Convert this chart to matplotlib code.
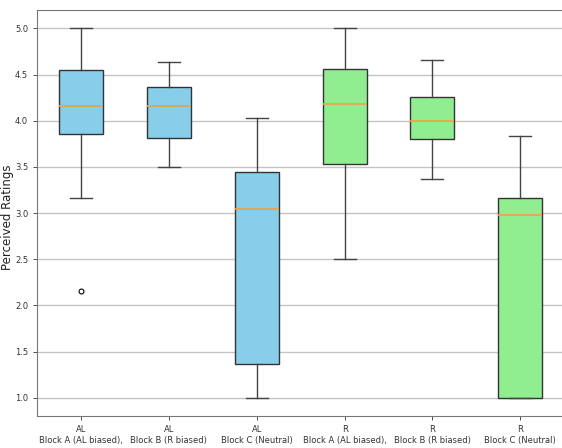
import matplotlib.pyplot as plt

# summary statistics per condition (perceived ratings)
labels = ["AL\nBlock A (AL biased),", "AL\nBlock B (R biased)", "AL\nBlock C (Neutral)",
          "R\nBlock A (AL biased),", "R\nBlock B (R biased)", "R\nBlock C (Neutral)"]
whislo = [3.16, 3.50, 1.00, 2.50, 3.37, 1.00]
q1 = [3.86, 3.81, 1.37, 3.53, 3.80, 1.00]
med = [4.16, 4.16, 3.04, 4.18, 4.00, 2.98]
q3 = [4.55, 4.37, 3.44, 4.56, 4.26, 3.16]
whishi = [5.00, 4.64, 4.03, 5.00, 4.66, 3.83]
fliers = [[2.16], [], [], [], [], []]
colors = ["skyblue"] * 3 + ["lightgreen"] * 3

stats = []
for i in range(len(labels)):
    stats.append(dict(label=labels[i], whislo=whislo[i], q1=q1[i], med=med[i],
                      q3=q3[i], whishi=whishi[i], fliers=fliers[i]))

fig = plt.figure(figsize=(5.62, 4.48), dpi=100)
ax = fig.add_axes([0.066, 0.071, 0.938, 0.907])

bp = ax.bxp(stats, widths=0.5, patch_artist=True,
            boxprops=dict(edgecolor="#333333", linewidth=1),
            whiskerprops=dict(color="#444444", linewidth=1),
            capprops=dict(color="#444444", linewidth=1),
            medianprops=dict(color="#f0a040", linewidth=1.2),
            flierprops=dict(marker="o", markersize=3.5, markerfacecolor="none",
                            markeredgecolor="black", markeredgewidth=0.8))
for patch, c in zip(bp["boxes"], colors):
    patch.set_facecolor(c)

ax.set_ylim(0.8, 5.2)
ax.set_xlim(0.5, 6.5)
ax.set_yticks([1.0, 1.5, 2.0, 2.5, 3.0, 3.5, 4.0, 4.5, 5.0])
ax.yaxis.grid(True, color="#c4c4c4", linewidth=1)
ax.set_axisbelow(True)
ax.set_ylabel("Perceived Ratings", fontsize=8.5, color="#222222")
ax.yaxis.set_label_coords(-0.043, 0.49)
ax.tick_params(axis="both", labelsize=6, colors="#333333", length=3, width=0.6)
for s in ax.spines.values():
    s.set_color("#777777")

fig.savefig("out.png", dpi=100)
